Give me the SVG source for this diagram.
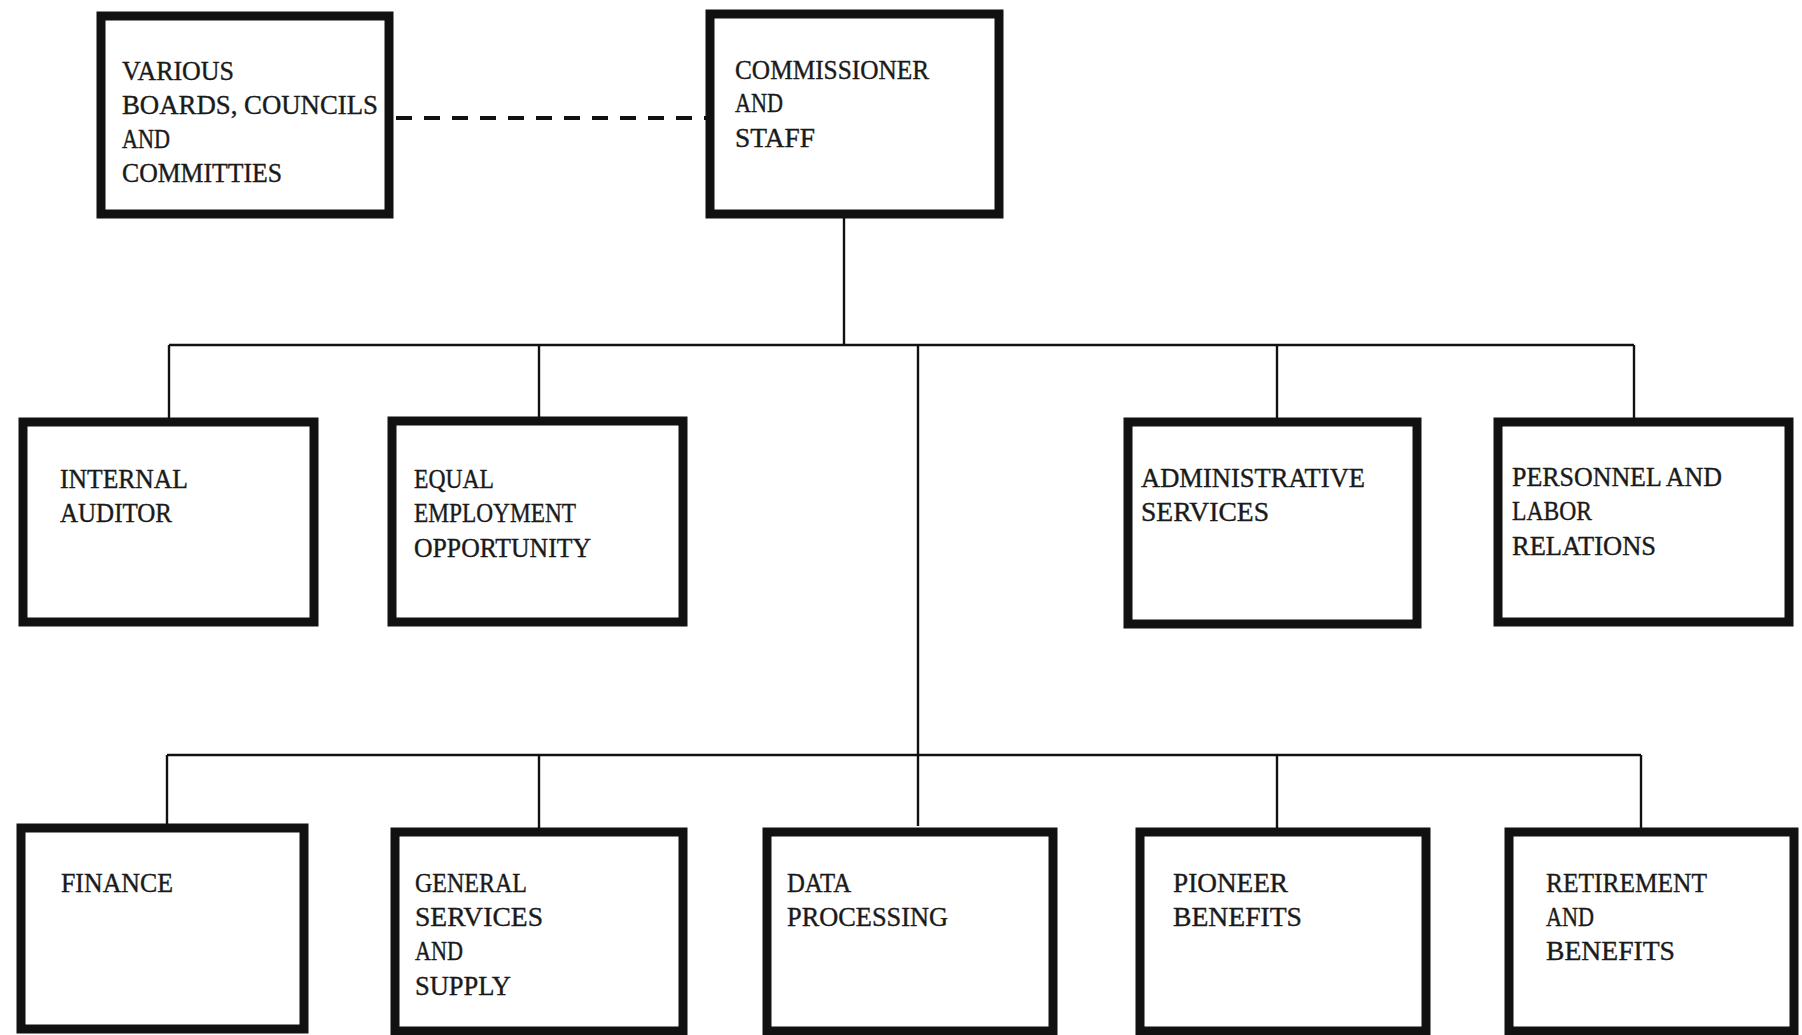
<svg xmlns="http://www.w3.org/2000/svg" width="1802" height="1035" viewBox="0 0 1802 1035">
  <style>
    .box { fill: #ffffff; stroke: #111111; stroke-width: 9; }
    .lbl { font-family: "Liberation Serif", "Times New Roman", serif; font-size: 28px; fill: #1a1a1a; stroke: #1a1a1a; stroke-width: 0.4; }
    .wire { fill: none; stroke: #111111; stroke-width: 2.4; }
    .dash { fill: none; stroke: #111111; stroke-width: 4; stroke-dasharray: 16 12; }
  </style>
  <rect x="0" y="0" width="1802" height="1035" fill="#ffffff"/>

  <!-- connectors -->
  <g id="connectors">
    <line class="dash" x1="396" y1="118" x2="706" y2="118"/>
    <line class="wire" x1="844" y1="218" x2="844" y2="345"/>
    <line class="wire" x1="169" y1="345" x2="1634" y2="345"/>
    <line class="wire" x1="169" y1="345" x2="169" y2="418"/>
    <line class="wire" x1="539" y1="345" x2="539" y2="418"/>
    <line class="wire" x1="1277" y1="345" x2="1277" y2="420"/>
    <line class="wire" x1="1634" y1="345" x2="1634" y2="420"/>
    <line class="wire" x1="918" y1="345" x2="918" y2="826"/>
    <line class="wire" x1="167" y1="755" x2="1641" y2="755"/>
    <line class="wire" x1="167" y1="755" x2="167" y2="824"/>
    <line class="wire" x1="539" y1="755" x2="539" y2="828"/>
    <line class="wire" x1="1277" y1="755" x2="1277" y2="828"/>
    <line class="wire" x1="1641" y1="755" x2="1641" y2="828"/>
  </g>

  <!-- top row -->
  <g id="boards">
    <rect class="box" x="101" y="16" width="288" height="198"/>
    <text class="lbl" x="122" y="80" textLength="112" lengthAdjust="spacingAndGlyphs">VARIOUS</text>
    <text class="lbl" x="122" y="114" textLength="256" lengthAdjust="spacingAndGlyphs">BOARDS, COUNCILS</text>
    <text class="lbl" x="122" y="148" textLength="48" lengthAdjust="spacingAndGlyphs">AND</text>
    <text class="lbl" x="122" y="182" textLength="160" lengthAdjust="spacingAndGlyphs">COMMITTIES</text>
  </g>
  <g id="commissioner">
    <rect class="box" x="710" y="14" width="289" height="200"/>
    <text class="lbl" x="735" y="79" textLength="194" lengthAdjust="spacingAndGlyphs">COMMISSIONER</text>
    <text class="lbl" x="735" y="112" textLength="48" lengthAdjust="spacingAndGlyphs">AND</text>
    <text class="lbl" x="735" y="147" textLength="80" lengthAdjust="spacingAndGlyphs">STAFF</text>
  </g>

  <!-- second row -->
  <g id="internal-auditor">
    <rect class="box" x="23" y="422" width="291" height="200"/>
    <text class="lbl" x="60" y="488" textLength="128" lengthAdjust="spacingAndGlyphs">INTERNAL</text>
    <text class="lbl" x="60" y="522" textLength="112" lengthAdjust="spacingAndGlyphs">AUDITOR</text>
  </g>
  <g id="equal-employment">
    <rect class="box" x="392" y="421" width="291" height="201"/>
    <text class="lbl" x="414" y="488" textLength="80" lengthAdjust="spacingAndGlyphs">EQUAL</text>
    <text class="lbl" x="414" y="522" textLength="162" lengthAdjust="spacingAndGlyphs">EMPLOYMENT</text>
    <text class="lbl" x="414" y="557" textLength="177" lengthAdjust="spacingAndGlyphs">OPPORTUNITY</text>
  </g>
  <g id="administrative-services">
    <rect class="box" x="1128" y="422" width="289" height="202"/>
    <text class="lbl" x="1141" y="487" textLength="224" lengthAdjust="spacingAndGlyphs">ADMINISTRATIVE</text>
    <text class="lbl" x="1141" y="521" textLength="128" lengthAdjust="spacingAndGlyphs">SERVICES</text>
  </g>
  <g id="personnel">
    <rect class="box" x="1498" y="422" width="291" height="200"/>
    <text class="lbl" x="1512" y="486" textLength="210" lengthAdjust="spacingAndGlyphs">PERSONNEL AND</text>
    <text class="lbl" x="1512" y="520" textLength="80" lengthAdjust="spacingAndGlyphs">LABOR</text>
    <text class="lbl" x="1512" y="555" textLength="144" lengthAdjust="spacingAndGlyphs">RELATIONS</text>
  </g>

  <!-- bottom row -->
  <g id="finance">
    <rect class="box" x="21" y="828" width="283" height="201"/>
    <text class="lbl" x="61" y="892" textLength="112" lengthAdjust="spacingAndGlyphs">FINANCE</text>
  </g>
  <g id="general-services">
    <rect class="box" x="395" y="832" width="288" height="199"/>
    <text class="lbl" x="415" y="892" textLength="112" lengthAdjust="spacingAndGlyphs">GENERAL</text>
    <text class="lbl" x="415" y="926" textLength="128" lengthAdjust="spacingAndGlyphs">SERVICES</text>
    <text class="lbl" x="415" y="960" textLength="48" lengthAdjust="spacingAndGlyphs">AND</text>
    <text class="lbl" x="415" y="995" textLength="96" lengthAdjust="spacingAndGlyphs">SUPPLY</text>
  </g>
  <g id="data-processing">
    <rect class="box" x="767" y="832" width="286" height="199"/>
    <text class="lbl" x="787" y="892" textLength="64" lengthAdjust="spacingAndGlyphs">DATA</text>
    <text class="lbl" x="787" y="926" textLength="161" lengthAdjust="spacingAndGlyphs">PROCESSING</text>
  </g>
  <g id="pioneer-benefits">
    <rect class="box" x="1140" y="832" width="286" height="199"/>
    <text class="lbl" x="1173" y="892" textLength="115" lengthAdjust="spacingAndGlyphs">PIONEER</text>
    <text class="lbl" x="1173" y="926" textLength="129" lengthAdjust="spacingAndGlyphs">BENEFITS</text>
  </g>
  <g id="retirement">
    <rect class="box" x="1509" y="832" width="285" height="199"/>
    <text class="lbl" x="1546" y="892" textLength="161" lengthAdjust="spacingAndGlyphs">RETIREMENT</text>
    <text class="lbl" x="1546" y="926" textLength="48" lengthAdjust="spacingAndGlyphs">AND</text>
    <text class="lbl" x="1546" y="960" textLength="129" lengthAdjust="spacingAndGlyphs">BENEFITS</text>
  </g>
</svg>
